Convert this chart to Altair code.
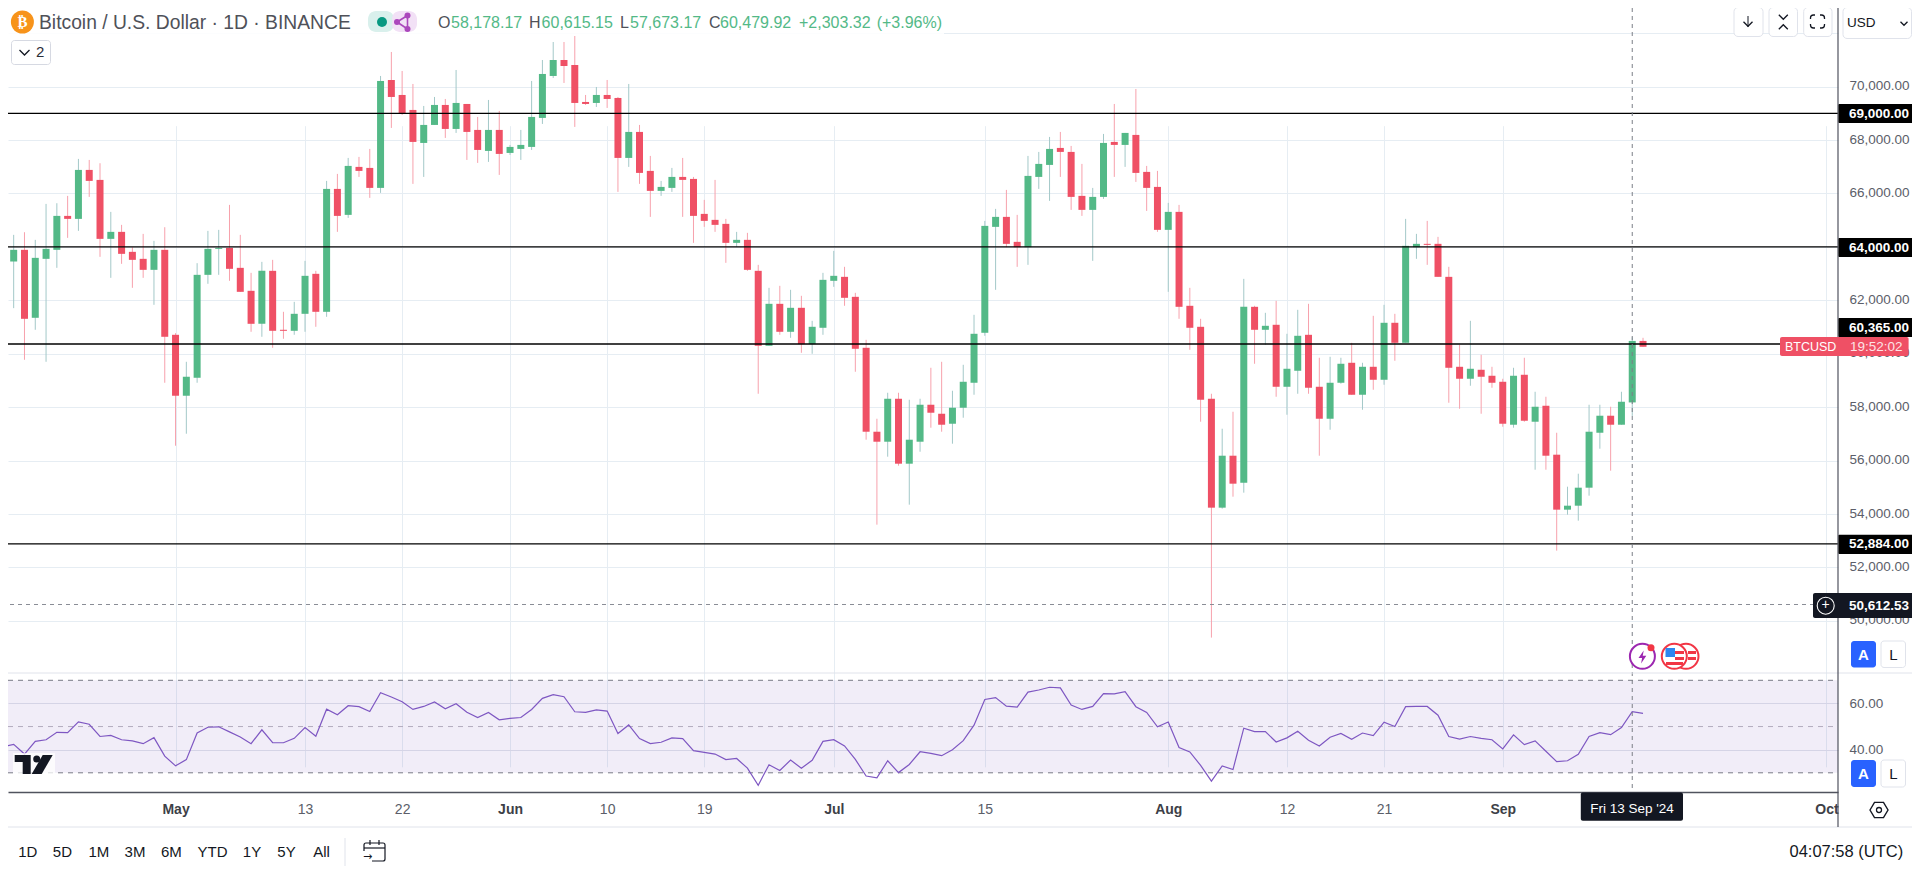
import altair as alt
import pandas as pd

opens = [66009,63453,63890,61346,63553,63890,65161,65049,66882,66508,64301,64563,63815,63553,63141,63890,60709,58428,59101,62954,
 63927,63964,63216,62356,61121,63104,60897,60859,61495,62992,61570,66171,65199,66995,66957,66209,70249,69688,69127,67892,
 68566,69314,68416,69351,68379,67593,68379,67518,67668,67743,68828,70399,70997,70810,69426,69389,69688,69576,67331,68304,
 66845,66097,66209,66620,66545,65236,65012,64862,64151,64264,63104,60298,61869,60822,61720,60360,60972,62730,62879,62131,
 60223,57081,56707,58315,55884,56707,58091,57754,57380,57979,58914,60785,64750,65124,64189,63989,66620,67069,67705,67556,
 65910,65386,65872,67930,67818,68192,66808,66246,64638,65311,61795,61009,58315,54238,56183,55173,61757,60897,61084,58764,
 59363,60709,58764,57567,58914,59662,58465,59512,59026,61159,60410,63989,64114,64114,62879,59512,59064,59400,59176,58951,
 57343,59213,57455,58053,56221,54163,54312,54986,57043,57680,57343,58178,60480]
closes = [63453,63890,61308,63590,63927,65161,65049,66882,66471,64301,64563,63740,63515,63141,63890,60635,58428,59139,62954,63927,
 63964,63179,62318,61121,63104,60859,60859,61495,62917,61570,66171,65161,67032,66845,66209,70212,69613,69002,67930,68566,
 69314,68416,69389,68304,67630,68379,67481,67743,67818,68865,70474,70997,70773,69389,69351,69688,69538,67331,68304,66770,
 66097,66246,66620,66508,65161,64974,64825,64151,64264,63141,60298,61869,60822,61720,60360,61009,62767,62917,62094,60186,
 57081,56707,58315,55884,56782,58091,57792,57343,57979,58951,60747,64787,65124,64114,63989,66658,67107,67668,67556,65872,
 65386,65872,67892,67818,68267,66770,66209,64638,65311,61757,60972,58278,54238,56183,55136,61757,60897,61046,58764,59438,
 60672,58727,57567,58914,59625,58465,59512,59026,61159,60410,64039,64114,64077,62879,59475,59064,59438,59139,58914,57380,
 59176,57492,58016,56183,54163,54312,54986,57081,57680,57343,58203,60480,60261]
highs = [67107,64451,64550,64264,65610,65635,65910,67294,67256,67132,65311,64825,63989,64488,64226,64737,60772,59699,63391,64600,
 64638,65573,64451,63029,63440,63515,61570,61944,63478,63104,66471,66733,67331,67369,67668,70399,71297,70586,70100,69277,
 69613,69538,70623,69351,68865,69501,69090,67818,68379,70212,70997,71671,71671,71895,69688,69987,70249,69613,70100,68566,
 67406,66471,66957,67331,66620,65760,66508,65049,64563,64526,63328,62468,62543,62393,62169,61233,63029,63852,63254,62281,
 60522,57567,58540,58540,58278,58315,59475,59699,58615,59587,61458,64974,65423,66134,65199,67406,67556,68117,68304,67780,
 67107,66209,68229,69351,68267,69912,67032,66845,65648,65573,62468,61308,58502,57193,57829,62804,61795,61533,61982,60747,
 61645,61869,59850,59887,59850,60410,59662,61420,61832,61495,65049,64488,64974,64376,63254,60335,61233,59961,59512,59064,
 59475,59850,58577,58390,57043,55023,55509,58091,58091,58016,58577,60615,60597]
lows = [62393,61707,59774,60897,59699,63216,64338,64600,65872,63628,62842,63366,62468,62842,61832,58914,56557,57006,58914,62618,
 62954,62730,62318,60822,60635,60223,60560,60709,60822,61009,61383,64563,65087,66620,65835,66022,68454,68940,66359,66620,
 68566,68079,68267,67256,67144,67182,66695,67443,67256,67630,68603,70324,70137,68491,69314,69239,69202,66059,66995,66359,
 65124,65910,66059,65124,64151,64750,64563,63403,64002,63104,58502,60298,60709,60597,60036,59999,60709,62505,61795,59326,
 56782,53602,56146,55809,54350,56333,57231,57081,56632,57605,58465,60672,62393,63989,63253,63328,66171,65723,66620,65386,
 65161,63478,65797,66620,66995,66433,65348,64563,62318,61308,60148,57455,49374,54200,54649,54799,59625,60335,58390,57717,
 58502,58502,56183,57156,58877,58465,57904,58652,58839,59737,60410,63553,63328,62879,58166,57941,58802,57754,58727,57268,
 57231,57455,55659,55659,52629,53976,53751,54687,56445,55622,57343,57673,60261]
rsi = [41.3,42.3,38.1,43.6,44.3,47.5,47.4,52.0,51.0,45.7,46.2,44.3,43.8,42.6,45.2,37.2,33.0,35.7,47.2,49.7,
 49.9,47.7,45.5,42.6,48.6,43.0,43.0,44.9,49.6,45.8,57.5,55.1,59.0,58.6,56.5,64.6,62.8,60.7,57.4,58.7,
 60.6,57.7,59.9,56.2,53.9,56.1,52.9,53.5,53.9,57.4,62.2,63.8,62.9,56.4,56.1,57.2,56.7,47.0,50.7,44.8,
 42.6,43.2,45.1,44.8,39.6,38.8,38.1,35.7,36.2,32.0,24.6,33.5,31.0,35.5,32.0,35.4,43.6,44.3,41.6,35.8,
 28.6,27.8,35.2,30.1,33.6,39.1,38.4,37.4,40.0,43.9,50.6,61.7,62.5,58.8,58.4,64.9,65.8,67.0,66.7,59.3,
 57.4,58.7,64.2,64.1,65.1,58.6,56.1,49.9,52.0,40.9,39.0,33.2,26.4,33.0,31.4,49.3,47.8,47.8,43.3,
 45.1,48.0,44.1,41.6,45.4,47.0,44.5,47.2,46.1,51.9,50.0,58.6,58.7,58.7,54.9,45.7,44.6,45.7,44.9,44.3,
 40.3,46.4,42.2,43.8,39.3,34.8,35.2,38.0,45.7,47.4,46.5,49.6,56.4,55.7]
price_ticks = [72000,70000,68000,66000,64000,62000,60000,58000,56000,54000,52000,50000]
rsi_ticks = [60,40]
date_ticks = [(4,15),(5,1),(5,13),(5,22),(6,1),(6,10),(6,19),(7,1),(7,15),(8,1),(8,12),(8,21),(9,1),(10,1)]
black_levels = [69000,64000,60365,52884]
dashed_level = [50612.53]
range_buttons = ["1D","5D","1M","3M","6M","YTD","1Y","5Y","All"]

assert len(opens)==len(closes)==len(highs)==len(lows)==len(rsi)==153, (len(opens),len(closes),len(highs),len(lows),len(rsi))

FONT = "Liberation Sans"
RED, GREEN = "#ef5065", "#53b987"
RED_W, GREEN_W = "#f7a1ac", "#a3c8c8"
GRID = "#e6edf3"
DARK = "#131722"
AXIS_TXT = "#5b5e69"

df = pd.DataFrame({"date": pd.date_range("2024-04-15", periods=153, freq="D").strftime("%Y-%m-%d"),
                   "open": opens, "close": closes, "high": highs, "low": lows, "rsi": rsi})

x_scale = alt.Scale(type="utc", padding=0,
                    domain=[alt.DateTime(year=2024, month=4, date=15, hours=11, minutes=21, utc=True),
                            alt.DateTime(year=2024, month=10, date=2, hours=1, minutes=40, utc=True)])
price_scale = alt.Scale(domain=[48000, 72000], range=[666.3, 25.2])
rsi_scale = alt.Scale(domain=[30, 70], range=[764.8, 672.3])

is_first = "utcFormat(datum.value,'%d')=='01'"
x_axis = alt.Axis(values=[alt.DateTime(year=2024, month=m, date=d, utc=True) for m, d in date_ticks],
                  labelExpr=f"{is_first} ? utcFormat(datum.value,'%b') : utcFormat(datum.value,'%-d')",
                  title=None, grid=True, gridColor=GRID, gridWidth=1, ticks=False, domainColor="#50535e",
                  domainWidth=1.3, labelPadding=17, labelFontSize=14, labelFont=FONT, labelOverlap=False,
                  labelFlush=False, labelBound=False, labelBaseline="middle",
                  labelColor={"condition": {"test": is_first, "value": "#3d3f47"}, "value": AXIS_TXT},
                  labelFontWeight={"condition": {"test": is_first, "value": "bold"}, "value": "normal"})
price_axis = alt.Axis(orient="right", values=price_ticks,
                      labelExpr="datum.value >= 72000 ? '' : format(datum.value, ',.2f')",
                      title=None, grid=True, gridColor=GRID,
                      gridWidth=1, ticks=False, domain=False, labelPadding=11, labelFontSize=13.5, labelFont=FONT,
                      labelColor=AXIS_TXT, labelOverlap=False, labelFlush=False, labelBound=False, labelOffset=-1)
rsi_axis = alt.Axis(orient="right", values=rsi_ticks, format=".2f", title=None, grid=True, gridColor="#e0e3eb",
                    gridWidth=1, ticks=False, domain=False, labelPadding=11, labelFontSize=13.5, labelFont=FONT,
                    labelColor=AXIS_TXT, labelOverlap=False, labelFlush=False, labelBound=False)

X = alt.X("date:T", scale=x_scale, axis=x_axis)
one = pd.DataFrame({"a": [0]})


def T(text, x, y, size=14, color=DARK, align="left", weight="normal", font=FONT):
    return alt.Chart(one).mark_text(align=align, baseline="middle", fontSize=size, color=color, fontWeight=weight,
                                    font=font).encode(x=alt.value(x - 8), y=alt.value(y - 8), text=alt.value(text))


def R(x0, y0, x1, y1, fill="#ffffff", stroke=None, radius=0, sw=1, opacity=1):
    kw = dict(fill=fill, cornerRadius=radius, opacity=opacity)
    if stroke:
        kw.update(stroke=stroke, strokeWidth=sw)
    return alt.Chart(one).mark_rect(**kw).encode(x=alt.value(x0 - 8), x2=alt.value(x1 - 8),
                                                 y=alt.value(y0 - 8), y2=alt.value(y1 - 8))


def C(x, y, d, fill=None, stroke=None, sw=1):
    kw = dict(shape="circle", opacity=1, filled=fill is not None)
    if fill:
        kw["fill"] = fill
    if stroke:
        kw.update(stroke=stroke, strokeWidth=sw)
    return alt.Chart(one).mark_point(**kw).encode(x=alt.value(x - 8), y=alt.value(y - 8), size=alt.value(d * d))


def P(path, x, y, d, color=DARK, filled=False, sw=1.3):
    kw = dict(shape=path, opacity=1, filled=filled, strokeWidth=sw)
    if filled:
        kw["fill"] = color
        kw["strokeWidth"] = 0
    else:
        kw["stroke"] = color
    return alt.Chart(one).mark_point(**kw).encode(x=alt.value(x - 8), y=alt.value(y - 8), size=alt.value(d * d))


def L(x0, y0, x1, y1, color=DARK, sw=1):
    return alt.Chart(one).mark_rule(color=color, strokeWidth=sw).encode(
        x=alt.value(x0 - 8), x2=alt.value(x1 - 8), y=alt.value(y0 - 8), y2=alt.value(y1 - 8))


CHEV = "M-1 -.5 L0 .5 L1 -.5"
CHEV_UP = "M-1 .5 L0 -.5 L1 .5"
is_up = "datum.close >= datum.open"

wick = alt.Chart(df).mark_rule(strokeWidth=1).encode(
    x=X, y=alt.Y("low:Q", scale=price_scale, axis=price_axis), y2="high:Q",
    color=alt.condition(is_up, alt.value(GREEN_W), alt.value(RED_W)))
body = alt.Chart(df).mark_bar(size=7).encode(
    x=X, y=alt.Y("open:Q", scale=price_scale, axis=None), y2="close:Q",
    color=alt.condition(is_up, alt.value(GREEN), alt.value(RED)))
levels = alt.Chart(pd.DataFrame({"v": black_levels})).mark_rule(color="#000000", strokeWidth=1.3).encode(
    y=alt.Y("v:Q", scale=price_scale, axis=None))
dashed = alt.Chart(pd.DataFrame({"v": dashed_level})).mark_rule(color="#8a8d96", strokeWidth=1, strokeDash=[4, 4]).encode(
    y=alt.Y("v:Q", scale=price_scale, axis=None))

band = alt.Chart(pd.DataFrame({"lo": [30], "hi": [70]})).mark_rect(color="#7e57c2", opacity=0.11).encode(
    x=alt.value(0), x2=alt.value(1830),
    y=alt.Y("lo:Q", scale=rsi_scale, axis=rsi_axis), y2="hi:Q")
rsi_bounds = alt.Chart(pd.DataFrame({"v": [70, 30]})).mark_rule(color="#787b86", strokeWidth=1, strokeDash=[5, 5]).encode(
    y=alt.Y("v:Q", scale=rsi_scale, axis=None)).encode(x=alt.value(0), x2=alt.value(1830))
rsi_mid = alt.Chart(pd.DataFrame({"v": [50]})).mark_rule(color="#b2aabd", strokeWidth=1, strokeDash=[5, 5]).encode(
    y=alt.Y("v:Q", scale=rsi_scale, axis=None)).encode(x=alt.value(0), x2=alt.value(1830))
rsi_line = alt.Chart(df).mark_line(color="#7e57c2", strokeWidth=1.2).encode(
    x=X, y=alt.Y("rsi:Q", scale=rsi_scale, axis=None))

cross = alt.Chart(pd.DataFrame({"date": ["2024-09-13"]})).mark_rule(color="#7b7e87", strokeWidth=1, strokeDash=[4, 4]).encode(x=X)

layers = [wick, body, levels, dashed, band, rsi_mid, rsi_bounds, rsi_line, cross]

# header
layers += [
    R(0, 9, 944, 36, opacity=0.85),
    C(22.4, 22, 23, fill="#f7931a"),
    T("₿", 22.4, 22, size=15, color="#ffffff", align="center", weight="bold", font="DejaVu Sans"),
    T("Bitcoin / U.S. Dollar · 1D · BINANCE", 39, 23, size=19.3, color="#4f5159"),
    R(368, 11, 394, 32, fill="#d9f0ec", radius=8),
    R(392, 11, 417, 32, fill="#f2e1f6", radius=8),
    C(382, 22, 10, fill="#089981"),
    L(397, 22, 407.5, 15.5, "#ab47bc", 1.6), L(397, 22, 407.5, 29, "#ab47bc", 1.6), L(407.5, 15.5, 407.5, 29, "#ab47bc", 1.6),
    C(397, 22, 6, fill="#ab47bc"), C(407.5, 15.5, 6, fill="#ab47bc"), C(407.5, 29, 6, fill="#ab47bc"),
    T("O", 438, 23, size=16, color="#4f5159"), T("58,178.17", 451, 23, size=16, color=GREEN),
    T("H", 529, 23, size=16, color="#4f5159"), T("60,615.15", 541.6, 23, size=16, color=GREEN),
    T("L", 620, 23, size=16, color="#4f5159"), T("57,673.17", 630, 23, size=16, color=GREEN),
    T("C", 709, 23, size=16, color="#4f5159"), T("60,479.92", 720, 23, size=16, color=GREEN),
    T("+2,303.32", 799, 23, size=16, color=GREEN), T("(+3.96%)", 876.7, 23, size=16, color=GREEN),
    R(11.5, 40.5, 50.5, 64.5, stroke="#d6d9e2", radius=3),
    P(CHEV, 24.5, 52.5, 10), T("2", 36, 52, size=15, color="#2a2e39"),
]
# top right buttons
layers += [
    R(1734, 7.5, 1763, 36.5, stroke="#e0e3eb", radius=4),
    L(1748, 16, 1748, 27), P(CHEV, 1748, 24, 9),
    R(1769, 7.5, 1797.5, 36.5, stroke="#e0e3eb", radius=4),
    P(CHEV, 1783.3, 17, 9), P(CHEV_UP, 1783.3, 27, 9),
    R(1803.7, 7.5, 1832, 36.5, stroke="#e0e3eb", radius=4),
    R(1810.5, 15, 1824.5, 28, stroke=DARK, radius=3, sw=1.3),
    R(1809, 19, 1826, 24), R(1815, 14, 1820, 29),
    R(1843, 7.5, 1911.5, 38.5, stroke="#e0e3eb", radius=4),
    T("USD", 1847, 22.5, size=13.5, color=DARK), P(CHEV, 1904, 23.5, 7),
]
# vertical axis line and separators
layers += [
    L(0, 673, 1920, 673, "#e0e3eb", 1), L(0, 827, 1920, 827, "#e0e3eb", 1),
    L(1838, 2, 1838, 827, "#50535e", 1.2),
]
# price tags
for lab, y0, y1 in [("69,000.00", 104, 123), ("64,000.00", 238, 257), ("60,365.00", 318, 337), ("52,884.00", 534.7, 554)]:
    layers += [R(1838.5, y0, 1915, y1, fill="#000000", radius=1), T(lab, 1849, (y0 + y1) / 2, size=13.5, color="#ffffff", weight="bold")]
layers += [
    R(1813, 593, 1915, 618, fill=DARK, radius=2),
    C(1825.7, 605.7, 17, stroke="#ffffff", sw=1.1), T("+", 1825.7, 605, size=14, color="#ffffff", align="center"),
    T("50,612.53", 1849, 605.5, size=13.5, color="#ffffff", weight="bold"),
    R(1780, 337, 1908.6, 356, fill=RED, radius=2),
    T("BTCUSD", 1785, 346.5, size=12.5, color="#ffffff"),
    T("19:52:02", 1850, 346.5, size=13.5, color="#fde3e6"),
]
# A / L buttons
for y0, y1 in [(641, 667.5), (760, 787)]:
    layers += [
        R(1851, y0, 1876, y1, fill="#2962ff", radius=3),
        T("A", 1863.5, (y0 + y1) / 2 + 0.5, size=15, color="#ffffff", align="center", weight="bold"),
        R(1881, y0, 1905.5, y1, stroke="#e0e3eb", radius=3),
        T("L", 1893.5, (y0 + y1) / 2 + 0.5, size=15, color=DARK, align="center"),
    ]
# event icons
layers += [
    C(1642.4, 656.3, 25, fill="#ffffff", stroke="#9c27b0", sw=2),
    P("M.2 -1 L-.6 .15 L-.05 .15 L-.2 1 L.6 -.2 L.05 -.2 Z", 1642.4, 657, 13, "#9c27b0", filled=True),
    C(1651, 647.7, 7, fill="#f23645"),
    C(1686, 656.3, 25, fill="#ffffff", stroke="#f23645", sw=2),
    R(1688, 651, 1696, 654, fill="#f23645"), R(1688, 657, 1696, 660, fill="#f23645"),
    C(1674.3, 656.3, 25, fill="#ffffff", stroke="#f23645", sw=2),
    R(1665.5, 648, 1675, 657, fill="#2e86f0"),
    R(1675, 651, 1684, 654, fill="#f23645"), R(1675, 657, 1684, 660, fill="#f23645"),
    R(1666, 662, 1683, 665, fill="#f23645"),
]
# TradingView logo
layers += [
    R(13, 753, 55, 776, opacity=0.75),
    P("M-1 -.5 L-.158 -.5 L-.158 .5 L-.579 .5 L-.579 -.132 L-1 -.132 Z", 33.7, 764.5, 38, DARK, filled=True),
    C(36.7, 759, 7, fill=DARK),
    P("M.474 -.5 L1 -.5 L.421 .5 L-.105 .5 Z", 33.7, 764.5, 38, DARK, filled=True),
]
# date tag and settings
layers += [
    R(1580.8, 792.5, 1683, 820.7, fill=DARK, radius=2),
    T("Fri 13 Sep '24", 1632, 809, size=13.5, color="#ffffff", align="center"),
    P("M-1 0 L-.5 -.85 L.5 -.85 L1 0 L.5 .85 L-.5 .85 Z", 1879, 810, 18, DARK, sw=1.4),
    C(1879, 810, 5, stroke=DARK, sw=1.3),
]
# bottom bar
for lab, cx in zip(range_buttons, [27.8, 62.4, 98.8, 135, 171.4, 212.6, 252, 286.5, 321.6]):
    layers.append(T(lab, cx, 851.5, size=15, color=DARK, align="center"))
layers += [
    L(345, 838, 345, 866, "#e0e3eb", 1),
    R(364, 843, 385, 861, stroke=DARK, radius=2, sw=1.2),
    R(362, 851, 372, 863), L(364, 848, 385, 848, DARK, 1.2),
    L(370, 840, 370, 845, DARK, 1.2), L(379, 840, 379, 845, DARK, 1.2),
    T("→", 363, 857, size=11, color=DARK, font="DejaVu Sans"),
    T("04:07:58 (UTC)", 1789.5, 851.5, size=16.5, color=DARK),
]

chart = alt.layer(*layers).resolve_scale(y="independent").resolve_axis(y="independent").properties(
    width=1830, height=784,
    padding={"left": 0, "top": 0, "right": 74, "bottom": 75},
    autosize=alt.AutoSizeParams(type="none"),
    background="#ffffff",
).configure_view(stroke=None)

chart.save("out.html", embed_options={"renderer": "svg", "actions": False})
